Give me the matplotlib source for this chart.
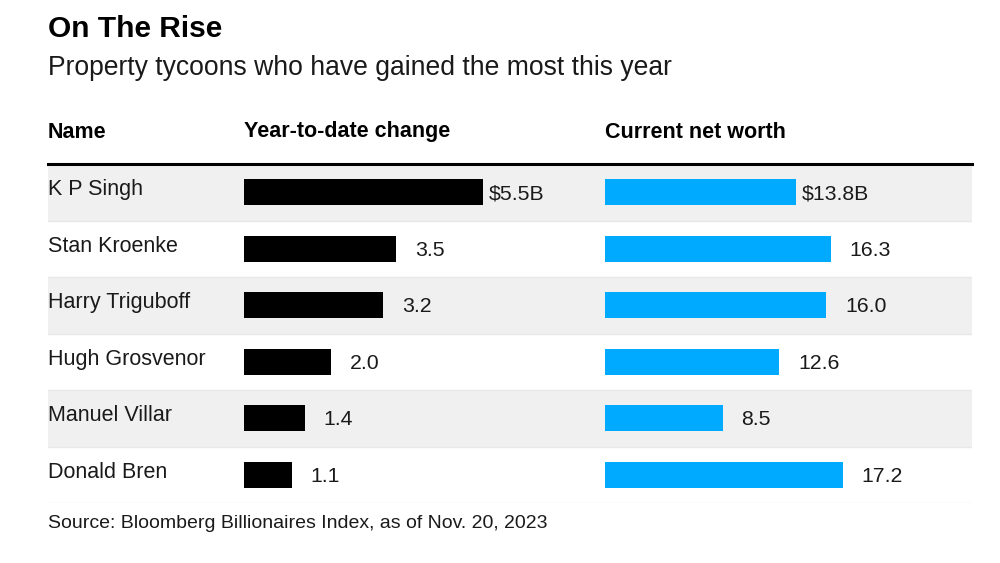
import matplotlib.pyplot as plt
from matplotlib.transforms import blended_transform_factory

plt.rcParams['font.family'] = ['Liberation Sans', 'DejaVu Sans']

names = ["K P Singh", "Stan Kroenke", "Harry Triguboff", "Hugh Grosvenor",
         "Manuel Villar", "Donald Bren"]
ytd_change = [5.5, 3.5, 3.2, 2.0, 1.4, 1.1]
net_worth = [13.8, 16.3, 16.0, 12.6, 8.5, 17.2]

W, H = 1000, 563
fig = plt.figure(figsize=(W / 100, H / 100), dpi=100)


def box(x0, y0, x1, y1):
    # pixel box -> figure fraction rect
    return [x0 / W, 1 - y1 / H, (x1 - x0) / W, (y1 - y0) / H]


n = len(names)
rows = list(range(n))

# background table
bg = fig.add_axes(box(48, 164, 972, 503))
bg.set_xlim(0, 1)
bg.set_ylim(n - 0.5, -0.5)
bg.axis('off')
for i in rows:
    if i % 2 == 0:
        bg.axhspan(i - 0.5, i + 0.5, color='#f0f0f0', lw=0)
    bg.axhline(i + 0.5, color='#e8e8e8', lw=1)
bg.axhline(-0.5, color='black', lw=2.2, clip_on=False)
trans = blended_transform_factory(bg.transAxes, bg.transData)
for i, nm in zip(rows, names):
    bg.text(0, i - 0.04, nm, transform=trans, ha='left', va='center',
            fontsize=15.5, color='#1a1a1a')

# year-to-date change bars
ax1 = fig.add_axes(box(244, 164, 560, 503))
ax1.barh(rows, ytd_change, height=0.46, color='black')
ax1.set_xlim(0, 316 / 43.45)
ax1.set_ylim(n - 0.5, -0.5)
ax1.axis('off')
for i, v in zip(rows, ytd_change):
    label = f"${v:.1f}B" if i == 0 else f"{v:.1f}"
    dx = 4.5 if i == 0 else 13.5
    ax1.annotate(label, (v, i), xytext=(dx, -1), textcoords='offset points',
                 ha='left', va='center', fontsize=15.3, color='#1a1a1a')

# current net worth bars
ax2 = fig.add_axes(box(605, 164, 972, 503))
ax2.barh(rows, net_worth, height=0.46, color='#00aaff')
ax2.set_xlim(0, 367 / 13.84)
ax2.set_ylim(n - 0.5, -0.5)
ax2.axis('off')
for i, v in zip(rows, net_worth):
    label = f"${v:.1f}B" if i == 0 else f"{v:.1f}"
    dx = 4.5 if i == 0 else 13.5
    ax2.annotate(label, (v, i), xytext=(dx, -1), textcoords='offset points',
                 ha='left', va='center', fontsize=15.3, color='#1a1a1a')

# headers and titles
fig.text(48 / W, 1 - 29 / H, "On The Rise", fontsize=21.5, fontweight='bold',
         va='center', ha='left')
fig.text(48 / W, 1 - 68 / H, "Property tycoons who have gained the most this year",
         fontsize=19.1, va='center', ha='left', color='#1a1a1a')
for x, h in [(48, "Name"), (244, "Year-to-date change"), (605, "Current net worth")]:
    fig.text(x / W, 1 - 132 / H, h, fontsize=15.5, fontweight='bold',
             va='center', ha='left')
fig.text(48 / W, 1 - 524 / H, "Source: Bloomberg Billionaires Index, as of Nov. 20, 2023",
         fontsize=14, va='center', ha='left', color='#1a1a1a')

fig.savefig('out.png', dpi=100, facecolor='white')
